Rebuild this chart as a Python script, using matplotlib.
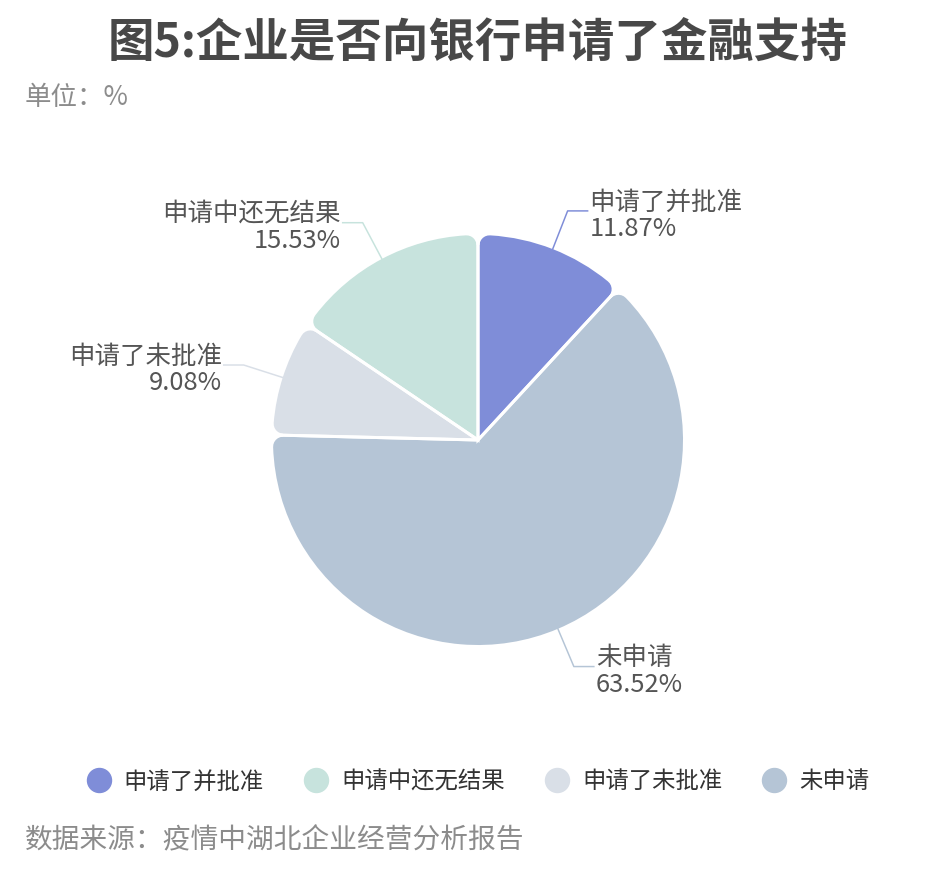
import matplotlib
matplotlib.use('Agg')
import matplotlib.pyplot as plt
from matplotlib.lines import Line2D
import numpy as np

plt.rcParams['font.family'] = ['Noto Sans CJK SC', 'DejaVu Sans']

# 饼图数据（从12点方向顺时针）
categories = ['申请了并批准', '未申请', '申请了未批准', '申请中还无结果']
shares = [11.87, 63.52, 9.08, 15.53]
colors = ['#7f8dd8', '#b5c5d6', '#d9dfe7', '#c7e3dd']
# 图例顺序
legend_order = ['申请了并批准', '申请中还无结果', '申请了未批准', '未申请']

W, H = 952, 880
px = 0.72  # 1 像素 = 0.72 pt

fig = plt.figure(figsize=(W / 100, H / 100), dpi=100)
ax = fig.add_axes([0, 0, 1, 1])

cx, cy = 478, H - 440
R = 205
corner = 10   # 圆角半径
gap = 1.5

# 第一层：缩小的扇形 + 同色粗描边（圆角连接）→ 外侧圆角
wedges, _ = ax.pie(shares, colors=colors, radius=R - corner, center=(cx, cy),
                   startangle=90, counterclock=False,
                   wedgeprops=dict(linewidth=2 * corner * px, joinstyle='round'))
alpha = np.degrees(np.arcsin((corner + gap) / (R - corner)))
for w, c in zip(wedges, colors):
    w.set_edgecolor(c)
    w.set_theta1(w.theta1 + alpha)
    w.set_theta2(w.theta2 - alpha)

# 第二层：内部用普通扇形盖住描边的重叠部分
ax.pie(shares, colors=colors, radius=R - corner, center=(cx, cy),
       startangle=90, counterclock=False, wedgeprops=dict(linewidth=0))

# 白色分隔线
ax.pie(shares, radius=R + 3, center=(cx, cy), startangle=90, counterclock=False,
       wedgeprops=dict(fill=False, edgecolor='white', linewidth=3 * px))

# 标签和引导线
starts = np.cumsum([0] + shares[:-1])
for name, v, start, c in zip(categories, shares, starts, colors):
    mid = np.radians(90 - (start + v / 2) * 3.6)
    x0, y0 = cx + R * np.cos(mid), cy + R * np.sin(mid)
    x1, y1 = cx + (R + 41) * np.cos(mid), cy + (R + 41) * np.sin(mid)
    side = 1 if np.cos(mid) >= 0 else -1
    x2 = x1 + side * 20
    ax.plot([x0, x1, x2], [y0, y1, y1], color=c, lw=1.5 * px)
    ax.text(x2 + side * 2, y1 - 5, f'{name}\n{v:.2f}%',
            ha='left' if side > 0 else 'right', va='center',
            fontsize=25.5 * px, color='#555555', linespacing=1.02)

# 图例
handles = [Line2D([], [], ls='', marker='o', markersize=24 * px,
                  color=colors[categories.index(n)]) for n in legend_order]
ax.legend(handles, legend_order, loc='center', bbox_to_anchor=(cx / W, (H - 782) / H),
          ncol=4, frameon=False, fontsize=23.4 * px, handlelength=1.05,
          handletextpad=0.55, columnspacing=1.7, labelcolor='#333333')

# 标题等文字
ax.text(cx, H - 43, '图5:企业是否向银行申请了金融支持', ha='center', va='center',
        fontsize=46.5 * px, fontweight='bold', color='#484848')
ax.text(25, H - 97, '单位：%', ha='left', va='center', fontsize=26.5 * px, color='#8c8c8c')
ax.text(25, H - 840, '数据来源：疫情中湖北企业经营分析报告', ha='left', va='center',
        fontsize=27.7 * px, color='#8c8c8c')

ax.set_xlim(0, W)
ax.set_ylim(0, H)
ax.axis('off')

fig.savefig('out.png', dpi=100)
